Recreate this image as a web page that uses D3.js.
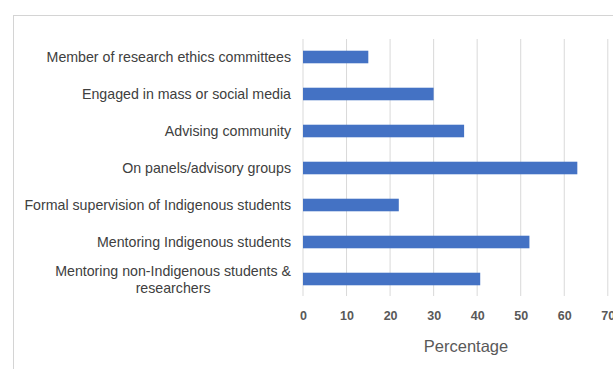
<!DOCTYPE html>
<html>
<head>
<meta charset="utf-8">
<script src="https://cdn.jsdelivr.net/npm/d3@7"></script>
<style>
  body { margin: 0; background: #fff; }
  svg { display: block; font-family: "Liberation Sans", Arial, sans-serif; }
</style>
</head>
<body>
<script>
// data
const categories = [
  "Member of research ethics committees",
  "Engaged in mass or social media",
  "Advising community",
  "On panels/advisory groups",
  "Formal supervision of Indigenous students",
  "Mentoring Indigenous students",
  "Mentoring non-Indigenous students & researchers"
];
const values = [15, 30, 37, 63, 22, 52, 40.7];
const ticks = [0, 10, 20, 30, 40, 50, 60, 70];

const width = 613, height = 369;

const svg = d3.select('body').append('svg')
  .attr('width', width)
  .attr('height', height);

// outer frame
svg.append('rect')
  .attr('x', 13.5).attr('y', 15.5)
  .attr('width', 700).attr('height', 400)
  .attr('fill', 'none')
  .attr('stroke', '#d4d4d4');

const x = d3.scaleLinear().domain([0, 70]).range([303, 607.8]);
const y = d3.scaleBand().domain(categories).range([38.5, 297.5]).paddingInner(0.66).paddingOuter(0.33);

// gridlines
svg.append('g').selectAll('line').data(ticks).enter().append('line')
  .attr('x1', d => x(d)).attr('x2', d => x(d))
  .attr('y1', 39).attr('y2', 296)
  .attr('stroke', '#d9d9d9')
  .attr('stroke-width', 1);

// bars
svg.append('g').selectAll('rect').data(values).enter().append('rect')
  .attr('x', x(0))
  .attr('y', (d, i) => y(categories[i]))
  .attr('width', d => x(d) - x(0))
  .attr('height', y.bandwidth())
  .attr('fill', '#4472c4');

// x tick labels
const xAxis = svg.append('g')
  .attr('transform', 'translate(0,296)')
  .call(d3.axisBottom(x).tickValues(ticks).tickSize(0).tickPadding(15));
xAxis.select('.domain').remove();
xAxis.selectAll('text')
  .attr('fill', '#595959')
  .style('font-size', '12.5px')
  .style('font-weight', 'bold')
  .style('font-family', '"Liberation Sans", Arial, sans-serif');

// category labels
const fs = '14.2px';
const labels = svg.append('g').selectAll('text').data(categories).enter().append('text')
  .attr('x', 291)
  .attr('y', d => y(d) + y.bandwidth() / 2)
  .attr('text-anchor', 'end')
  .attr('dominant-baseline', 'central')
  .attr('fill', '#404040')
  .style('font-size', fs);

labels.each(function(d) {
  const t = d3.select(this);
  if (d.startsWith('Mentoring non')) {
    const first = 'Mentoring non-Indigenous students &';
    t.attr('y', y(d) + y.bandwidth() / 2 - 8).text(first);
    const w = this.getComputedTextLength();
    svg.append('text')
      .attr('x', 291 - w / 2)
      .attr('y', y(d) + y.bandwidth() / 2 + 9)
      .attr('text-anchor', 'middle')
      .attr('dominant-baseline', 'central')
      .attr('fill', '#404040')
      .style('font-size', fs)
      .text('researchers');
  } else {
    t.text(d);
  }
});

// axis title
svg.append('text')
  .attr('x', 466)
  .attr('y', 346)
  .attr('text-anchor', 'middle')
  .attr('dominant-baseline', 'central')
  .attr('fill', '#595959')
  .style('font-size', '16.5px')
  .text('Percentage');
</script>
</body>
</html>
